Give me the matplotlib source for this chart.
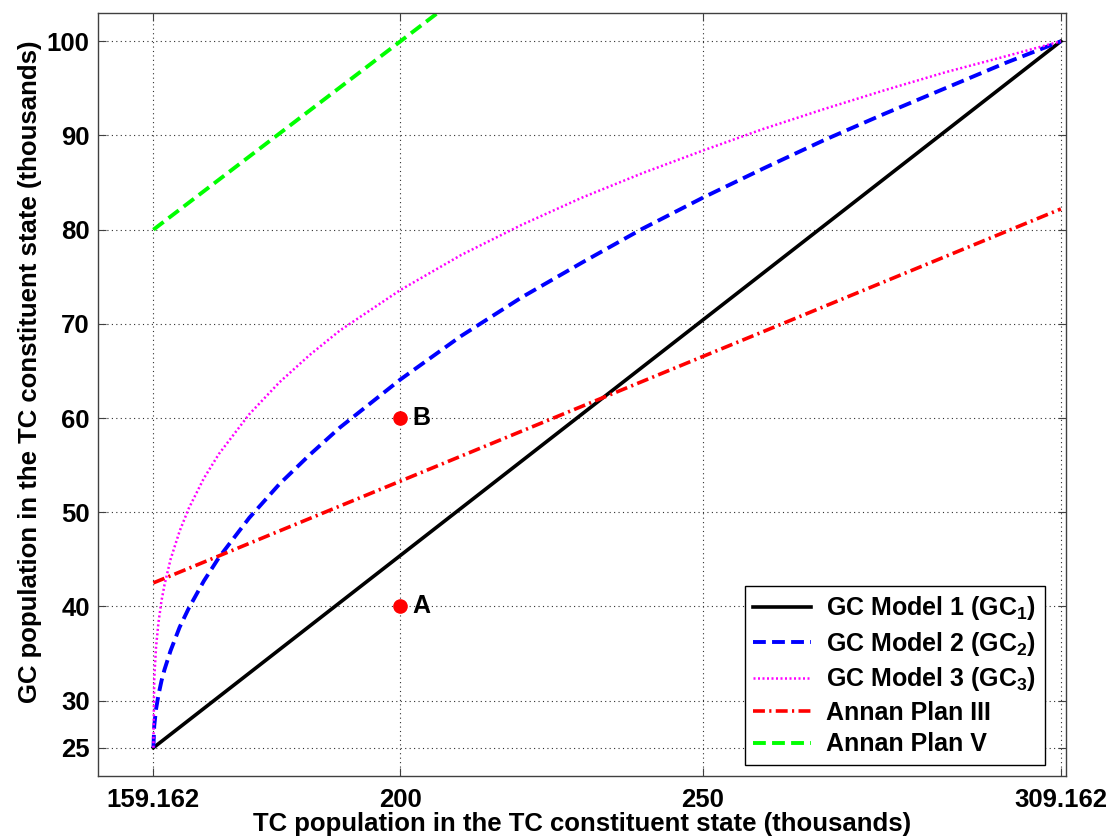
import numpy as np
import matplotlib
matplotlib.use("Agg")
import matplotlib.pyplot as plt

plt.rcParams['font.family'] = ['Liberation Sans', 'DejaVu Sans']
plt.rcParams['font.weight'] = 'bold'
plt.rcParams['mathtext.fontset'] = 'custom'
plt.rcParams['mathtext.bf'] = 'Liberation Sans:bold'
plt.rcParams['mathtext.rm'] = 'Liberation Sans:bold'
plt.rcParams['mathtext.default'] = 'bf'

# data
tc = [159.162, 159.3, 159.6, 160, 160.5, 161, 162, 163.5, 165, 167.5, 170, 175,
      180, 185, 190, 200, 210, 220, 230, 240, 250, 260, 270, 280, 290, 300, 309.162]
gc2 = [25, 27.3, 29.1, 30.6, 32.1, 33.3, 35.3, 37.8, 39.8, 42.7, 45.2, 49.4,
       53.0, 56.1, 59.0, 64.1, 68.7, 72.8, 76.5, 80.1, 83.4, 86.5, 89.5, 92.3, 95.0, 97.7, 100]
gc3 = [25, 32.3, 35.7, 38.3, 40.6, 42.3, 45.0, 48.0, 50.4, 53.6, 56.2, 60.4,
       63.8, 66.7, 69.3, 73.6, 77.3, 80.5, 83.4, 86.0, 88.4, 90.7, 92.8, 94.8, 96.7, 98.4, 100]
gc1_x = [159.162, 309.162]
gc1_y = [25, 100]
plan3_x = [159.162, 309.162]
plan3_y = [42.5, 82.2]
plan5_x = [159.162, 210]
plan5_y = [80, 104.9]
pts_x = [200, 200]
pts_y = [40, 60]
pts_lab = ['A', 'B']

xticks = [159.162, 200, 250, 309.162]
xticklabels = ['159.162', '200', '250', '309.162']
yticks = [25, 30, 40, 50, 60, 70, 80, 90, 100]

fs = 18.5

fig = plt.figure(figsize=(11.12, 8.4), dpi=100)
ax = fig.add_axes([0.0881, 0.0762, 0.8705, 0.9083])

ax.plot(gc1_x, gc1_y, color='k', lw=2.6, label='GC Model 1 (GC$_1$)')
ax.plot(tc, gc2, color='#0000ff', lw=2.8, dashes=(3.3, 1.6), label='GC Model 2 (GC$_2$)')
ax.plot(tc, gc3, color='#ff00ff', lw=1.8, dashes=(0.8, 1.0), label='GC Model 3 (GC$_3$)')
ax.plot(plan3_x, plan3_y, color='#ff0000', lw=2.6, dashes=(3.3, 1.2, 0.6, 1.2), label='Annan Plan III')
ax.plot(plan5_x, plan5_y, color='#00ff00', lw=2.8, dashes=(3.3, 1.6), label='Annan Plan V')

ax.plot(pts_x, pts_y, 'o', color='#ff0000', ms=9.5, mec='#ff0000')
for px, py, s in zip(pts_x, pts_y, pts_lab):
    ax.text(px + 2.0, py, s, fontsize=18, fontweight='bold', va='center', ha='left')

ax.set_xlim(150, 310)
ax.set_ylim(22, 103)
ax.set_xticks(xticks)
ax.set_xticklabels(xticklabels)
ax.set_yticks(yticks)
ax.tick_params(direction='in', length=6, width=0.8, labelsize=fs, top=True, right=True,
               color='#404040')
ax.tick_params(axis='x', pad=9)
ax.tick_params(axis='y', pad=6)
for lab in ax.get_xticklabels() + ax.get_yticklabels():
    lab.set_fontweight('bold')
ax.grid(True, color='#303030', ls=(0, (1, 3)), lw=0.8)
for sp in ax.spines.values():
    sp.set_color('#404040')
    sp.set_linewidth(1.0)

ax.set_xlabel('TC population in the TC constituent state (thousands)', fontsize=fs,
              fontweight='bold', labelpad=0)
ax.set_ylabel('GC population in the TC constituent state (thousands)', fontsize=fs,
              fontweight='bold')
ax.yaxis.set_label_coords(-0.058, 0.53)

leg = ax.legend(loc='lower right', bbox_to_anchor=(0.978, 0.0144), fontsize=18,
                fancybox=False, framealpha=1, edgecolor='k', handlelength=2.3,
                handletextpad=0.6, borderaxespad=0, labelspacing=0.3, borderpad=0.35)
leg.get_frame().set_linewidth(1.0)
for t in leg.get_texts():
    t.set_fontweight('bold')

fig.savefig('out.png', dpi=100)
